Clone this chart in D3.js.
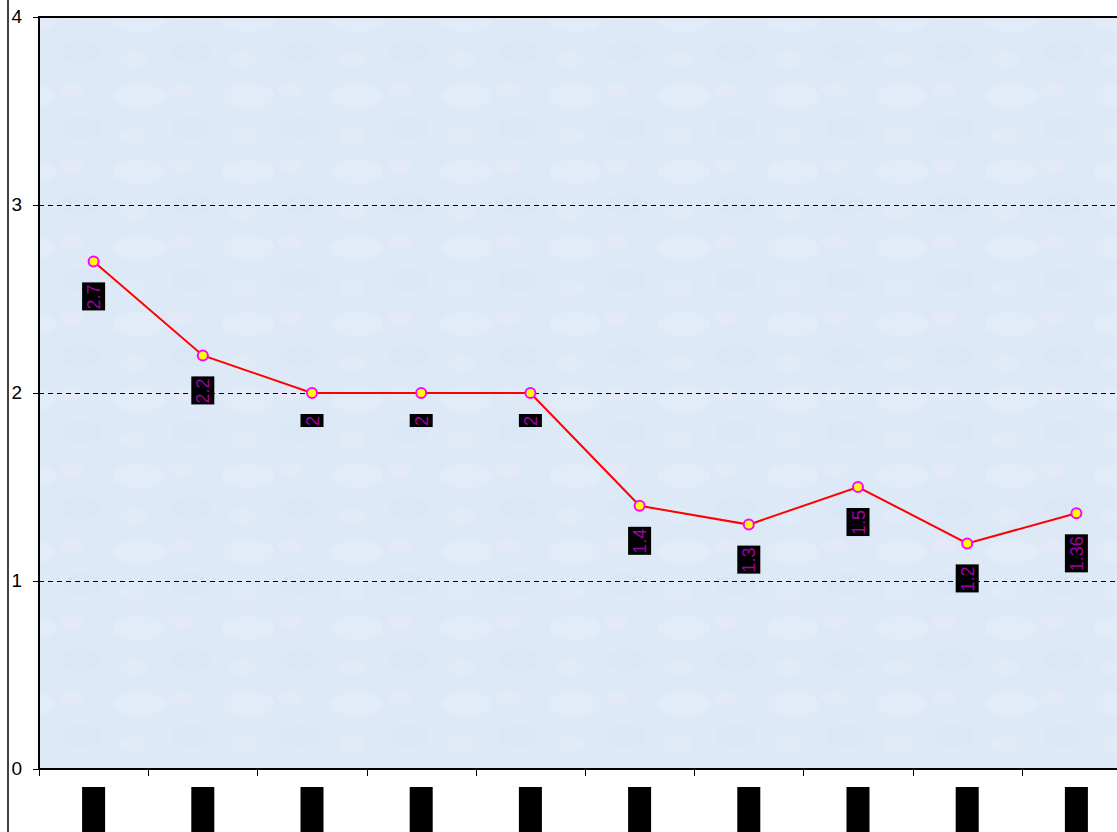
<!DOCTYPE html>
<html><head><meta charset="utf-8">
<script src="https://cdn.jsdelivr.net/npm/d3@7"></script>
<style>body{margin:0;background:#fff;overflow:hidden}svg{display:block}</style>
</head><body><svg id="c" width="1117" height="832"></svg>
<script>
const categories = ["Cat 1","Cat 2","Cat 3","Cat 4","Cat 5","Cat 6","Cat 7","Cat 8","Cat 9","Cat 10"];
const values = [2.7, 2.2, 2, 2, 2, 1.4, 1.3, 1.5, 1.2, 1.36];
const labels = ["2.7","2.2","2","2","2","1.4","1.3","1.5","1.2","1.36"];
const yTicks = [0,1,2,3,4];

const svg = d3.select("#c");
const L = 39, T = 17, B = 769, R = 1131;
const x = d3.scaleBand().domain(categories).range([L, R]);
const y = d3.scaleLinear().domain([0, 4]).range([B, T]);
const FONT = "Liberation Sans, Arial, sans-serif";

// outer chart border line
svg.append("line").attr("x1",8).attr("x2",8).attr("y1",0).attr("y2",832)
  .attr("stroke","#000").attr("stroke-width",1.5);

// plot background with subtle texture
const defs = svg.append("defs");
const pat = defs.append("pattern").attr("id","tex").attr("patternUnits","userSpaceOnUse")
  .attr("width",109).attr("height",76);
pat.append("rect").attr("width",109).attr("height",76).attr("fill","#dde9f7");
pat.append("ellipse").attr("cx",30).attr("cy",20).attr("rx",26).attr("ry",12).attr("fill","#e5eef9").attr("opacity",0.7);
pat.append("ellipse").attr("cx",82).attr("cy",52).attr("rx",20).attr("ry",11).attr("fill","#d8e6f5").attr("opacity",0.6);
pat.append("ellipse").attr("cx",72).attr("cy",14).attr("rx",12).attr("ry",7).attr("fill","#e8eaf6").attr("opacity",0.6);
pat.append("ellipse").attr("cx",25).attr("cy",60).attr("rx",14).attr("ry",8).attr("fill","#e4edf8").attr("opacity",0.6);
svg.append("rect").attr("x",L).attr("y",T).attr("width",R-L).attr("height",B-T).attr("fill","url(#tex)");

// gridlines
svg.append("g").selectAll("line").data(yTicks.filter(d=>d>0 && d<4)).join("line")
  .attr("x1",L).attr("x2",R).attr("y1",d=>Math.round(y(d))+0.5).attr("y2",d=>Math.round(y(d))+0.5)
  .attr("stroke","#000").attr("stroke-width",1).attr("stroke-dasharray","5,4");

// y axis
const ya = svg.append("g").attr("transform",`translate(${L},0)`)
  .call(d3.axisLeft(y).tickValues(yTicks).tickSize(6).tickFormat(d3.format("d")));
ya.select(".domain").remove();
ya.selectAll("line").attr("stroke","#000");
ya.selectAll("text").style("font-family",FONT).style("font-size","19px")
  .attr("fill","#000").attr("x",-17).attr("dy","0.3em");

// x axis ticks at band boundaries
const bounds = categories.map(c => x(c));
svg.append("g").selectAll("line").data(bounds).join("line")
  .attr("x1",d=>Math.round(d)+0.5).attr("x2",d=>Math.round(d)+0.5).attr("y1",B).attr("y2",B+7)
  .attr("stroke","#000").attr("stroke-width",1);

// plot border (top, left, bottom)
svg.append("path").attr("d",`M${R},${T}H${L}V${B}H${R}`).attr("fill","none")
  .attr("stroke","#000").attr("stroke-width",2);

// x category labels: rotated text on black boxes
const xl = svg.append("g");
categories.forEach(c => {
  const cx = x(c) + x.bandwidth()/2;
  const g = xl.append("g");
  g.append("rect").attr("x",cx-11.5).attr("y",787).attr("width",23).attr("height",50).attr("fill","#000");
  g.append("text").attr("transform",`translate(${cx+5},789) rotate(-90)`).attr("text-anchor","end")
    .style("font-family",FONT).style("font-size","13px").attr("fill","#000").text(c);
});

// line
const line = d3.line().x((d,i)=>x(categories[i])+x.bandwidth()/2).y(d=>y(d));
svg.append("path").datum(values).attr("d",line).attr("fill","none").attr("stroke","#ff0000").attr("stroke-width",2);

// data labels
const dl = svg.append("g");
values.forEach((v,i) => {
  const cx = x(categories[i]) + x.bandwidth()/2;
  const top = y(v) + 21;
  const g = dl.append("g");
  const t = g.append("text").style("font-family",FONT).style("font-size","18px")
    .attr("fill","#a000a8").attr("text-anchor","start").text(labels[i]);
  const w = t.node().getComputedTextLength();
  t.attr("transform",`translate(${cx+6.5},${top+w+2}) rotate(-90)`);
  g.insert("rect","text").attr("x",cx-11.5).attr("y",top).attr("width",23).attr("height",w+3).attr("fill","#000");
});

// markers
svg.append("g").selectAll("circle").data(values).join("circle")
  .attr("cx",(d,i)=>x(categories[i])+x.bandwidth()/2).attr("cy",d=>y(d)).attr("r",5)
  .attr("fill","#ffff00").attr("stroke","#ff00ff").attr("stroke-width",2);
</script></body></html>
